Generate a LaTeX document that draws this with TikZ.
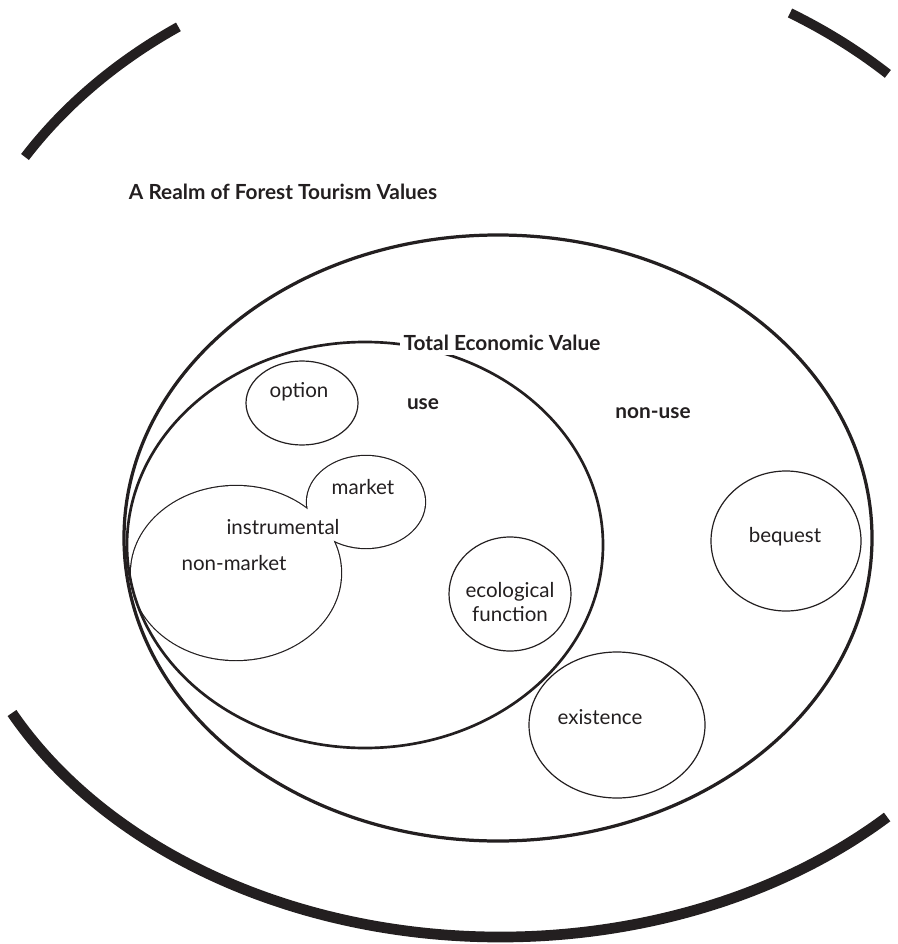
\documentclass[tikz,border=0pt]{standalone}
\usepackage{fontspec}
\setmainfont{Lato}
\definecolor{ink}{RGB}{35,31,32}

\begin{document}
\begin{tikzpicture}[x=0.025cm, y=-0.025cm,
		realm/.style={ink, line width=7pt},
		tevring/.style={ink, line width=1.9pt},
		valring/.style={ink, line width=0.85pt},
		headtext/.style={ink, font=\fontsize{14.8}{17}\selectfont\bfseries},
		valtext/.style={ink, font=\fontsize{14.6}{17}\selectfont},
	]
		\useasboundingbox (0,0) rectangle (897,944);

		% realm arcs
		\draw[realm] (25,157) arc[start angle=211.2, end angle=234.8, x radius=550, y radius=435];
		\draw[realm] (790,13) arc[start angle=301.7, end angle=314.7, x radius=550, y radius=435];
		\draw[realm, line width=7.6pt] (12,713) arc[start angle=152.6, end angle=45.3, x radius=550, y radius=415];

		% instrumental blob
		\draw[valring, line width=1.7pt] (236,573) ellipse[x radius=105, y radius=87]
			(366,502) ellipse[x radius=59, y radius=46];
		\fill[white] (236,573) ellipse[x radius=105, y radius=87]
			(366,502) ellipse[x radius=59, y radius=46];

		% rings
		\draw[ink, line width=2.3pt] (498,538) ellipse[x radius=374, y radius=303];
		\draw[tevring] (365,545) ellipse[x radius=238, y radius=203];
		\draw[valring] (302,403) ellipse[x radius=56, y radius=42];
		\draw[valring] (510,594) ellipse[x radius=61, y radius=57];
		\draw[valring] (786,541) ellipse[x radius=75, y radius=70];
		\draw[valring] (617,725) ellipse[x radius=88, y radius=73];

		% labels
		\node[headtext] (realmtitle) at (283,192) {A Realm of Forest Tourism Values};
		\node[headtext, fill=white, inner sep=3pt] (tevtitle) at (502,343) {Total Economic Value};
		\node[headtext] (usetext) at (423,404) {use};
		\node[headtext] (nonusetext) at (653,413) {non-use};
		\node[valtext] (optiontext) at (299,392) {option};
		\node[valtext] (markettext) at (363,487) {market};
		\node[valtext] (instrtext) at (283,527) {instrumental};
		\node[valtext] (nonmarkettext) at (234,563) {non-market};
		\node[valtext, align=center] (ecotext) at (510,602) {ecological\\function};
		\node[valtext] (bequesttext) at (785,537) {bequest};
		\node[valtext] (existtext) at (600,717) {existence};

	\end{tikzpicture}
\end{document}
